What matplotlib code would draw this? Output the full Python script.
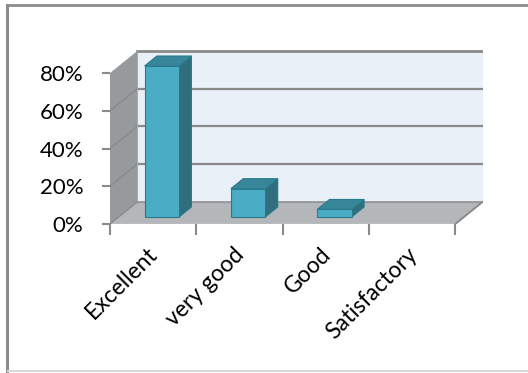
import matplotlib.pyplot as plt
import matplotlib.transforms as mtransforms
from matplotlib.patches import Polygon
from matplotlib.lines import Line2D

categories = ["Excellent", "very good", "Good", "Satisfactory"]
values = [80, 15, 4, 0]
y_ticks = [0, 20, 40, 60, 80]
y_labels = ["0%", "20%", "40%", "60%", "80%"]

# oblique depth offset of the box (x in category units, y in percent)
DX, DY = 0.316, 11.7
BAR_W = 0.40
BAR_Z0, BAR_Z1 = 0.32, 0.77  # bar front/back as a fraction of box depth

WALL_BACK = "#e9f0f7"
WALL_SIDE = "#979a9d"
FLOOR = "#b4b7ba"
GRID = "#8a8a8a"
BAR_FRONT = "#4bacc6"
BAR_SIDE = "#2f6e7e"
BAR_TOP = "#37869a"
BAR_EDGE = "#2a7a8e"

plt.rcParams["font.family"] = ["Lato", "DejaVu Sans"]

fig = plt.figure(figsize=(5.28, 3.73), dpi=100)

# chart area border: dark on top/left, light on the bottom
fig.add_artist(Line2D([7 / 528, 1], [1 - 5 / 373] * 2, color="#8c8c8c", lw=2))
fig.add_artist(Line2D([7 / 528] * 2, [1 - 5 / 373, 0], color="#8c8c8c", lw=2.2))
fig.add_artist(Line2D([8 / 528, 1], [2 / 373] * 2, color="#d9d9d9", lw=1.5))

ax = fig.add_axes([110 / 528, (373 - 224) / 373, (483 - 110) / 528, (224 - 50) / 373])
n = len(categories)
ymax = y_ticks[-1]
ax.set_xlim(0, n + DX + 0.005)
ax.set_ylim(0, ymax + DY + 0.5)
for s in ax.spines.values():
    s.set_visible(False)
ax.patch.set_alpha(0)

# back wall, side wall and floor
ax.add_patch(Polygon([(DX, DY), (n + DX, DY), (n + DX, ymax + DY), (DX, ymax + DY)],
                     closed=True, fc=WALL_BACK, ec="none", zorder=1))
ax.add_patch(Polygon([(0, 0), (DX, DY), (DX, ymax + DY), (0, ymax)],
                     closed=True, fc=WALL_SIDE, ec="none", zorder=1))
ax.add_patch(Polygon([(0, 0), (n, 0), (n + DX, DY), (DX, DY)],
                     closed=True, fc=FLOOR, ec="none", zorder=1))

# gridlines across the side and back walls
for v in y_ticks[1:-1]:
    ax.plot([0, DX], [v, v + DY], color="#858789", lw=0.8, zorder=2)
    ax.plot([DX, n + DX], [v + DY, v + DY], color=GRID, lw=1.6, zorder=2)
ax.plot([DX, n + DX], [ymax + DY] * 2, color=GRID, lw=2, zorder=2)
ax.plot([DX, n + DX], [DY, DY], color="#8f9193", lw=1.2, zorder=2)
ax.plot([DX, DX], [DY, ymax + DY], color="#a9abad", lw=0.8, zorder=2)
ax.plot([n, n + DX], [0, DY], color="#8a8a8a", lw=1.4, zorder=2)
ax.plot([0, n], [0, 0], color="#d0d2d4", lw=1.0, zorder=2)
ax.plot([0, DX], [0, DY], color="#8a8a8a", lw=1.0, zorder=2)

# 3D bars
for i, v in enumerate(values):
    if v <= 0:
        continue
    cx = i + 0.5
    fx0 = cx - BAR_W / 2 + BAR_Z0 * DX
    fx1 = cx + BAR_W / 2 + BAR_Z0 * DX
    fy0 = BAR_Z0 * DY
    ddx = (BAR_Z1 - BAR_Z0) * DX
    ddy = (BAR_Z1 - BAR_Z0) * DY
    front = [(fx0, fy0), (fx1, fy0), (fx1, fy0 + v), (fx0, fy0 + v)]
    side = [(fx1, fy0), (fx1 + ddx, fy0 + ddy), (fx1 + ddx, fy0 + ddy + v), (fx1, fy0 + v)]
    top = [(fx0, fy0 + v), (fx1, fy0 + v), (fx1 + ddx, fy0 + v + ddy), (fx0 + ddx, fy0 + v + ddy)]
    ax.add_patch(Polygon(side, closed=True, fc=BAR_SIDE, ec=BAR_EDGE, lw=0.8, zorder=3))
    ax.add_patch(Polygon(top, closed=True, fc=BAR_TOP, ec=BAR_EDGE, lw=0.8, zorder=3))
    ax.add_patch(Polygon(front, closed=True, fc=BAR_FRONT, ec=BAR_EDGE, lw=0.8, zorder=4))

# axes ticks and labels
ax.set_yticks(y_ticks)
ax.set_yticklabels(y_labels, fontsize=16)
ax.tick_params(axis="y", length=6, width=1.5, color="#8a8a8a", pad=13)

ax.set_xticks(range(n + 1))
ax.set_xticklabels([])
ax.set_xticks([i + 0.5 for i in range(n)], minor=True)
ax.set_xticklabels(categories, minor=True, rotation=45, ha="right",
                   va="top", rotation_mode="anchor", fontsize=16.5)
ax.tick_params(axis="x", which="major", length=8, width=1.5, color="#8a8a8a")
ax.tick_params(axis="x", which="minor", length=0, pad=14)
shift = mtransforms.ScaledTranslation(-6 / 100, 0, fig.dpi_scale_trans)
for lbl in ax.get_xticklabels(minor=True):
    lbl.set_transform(lbl.get_transform() + shift)

fig.savefig("out.png", dpi=100)
